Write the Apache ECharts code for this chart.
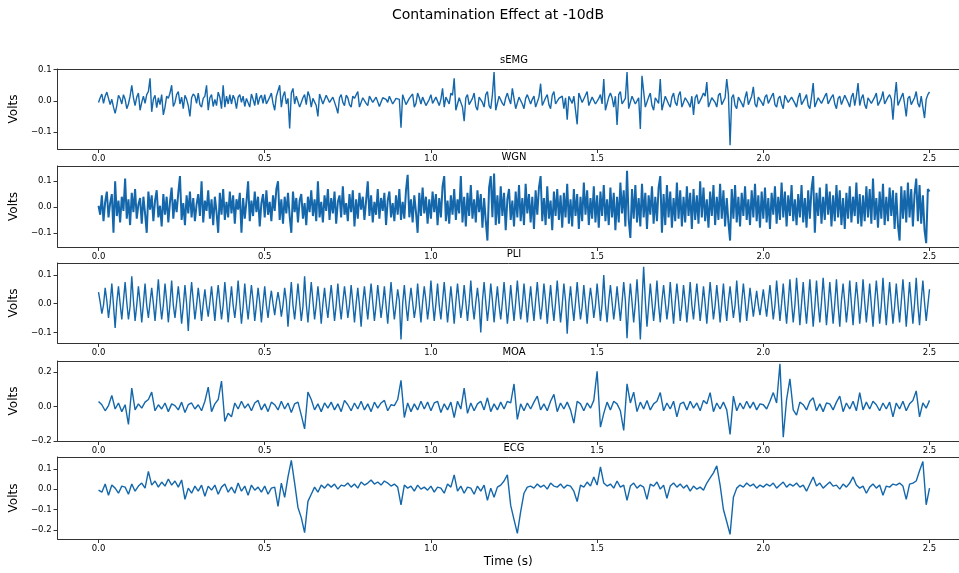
<!DOCTYPE html>
<html lang="en">
<head>
<meta charset="UTF-8">
<title>Contamination Effect at -10dB</title>
<script src="https://cdn.jsdelivr.net/npm/echarts@6/dist/echarts.min.js"></script>
<style>
    html, body { margin: 0; padding: 0; background: #fff; }
    #main { width: 959px; height: 573px; }
</style>
</head>
<body>
<div id="main"></div>
<script type="text/javascript">
    // panel titles and tick values
    var panelNames = ['sEMG', 'WGN', 'PLI', 'MOA', 'ECG'];
    var xTicks = [0, 0.5, 1.0, 1.5, 2.0, 2.5];
    var yTicks = [
        [-0.1, 0, 0.1],
        [-0.1, 0, 0.1],
        [-0.1, 0, 0.1],
        [-0.2, 0, 0.2],
        [-0.2, -0.1, 0, 0.1]
    ];
    // sample step of each signal, seconds
    var stepSec = [0.005, 0.005, 0.005, 0.01, 0.01];

    // signals, millivolts
    var semg = [
        -5, 10, 22, -8, 15, 28, 30, -12, 5, -20, -40, -15, 18, 8, -10, 20, 5, -25, -10, 15,
        50, 10, -15, 12, 25, -30, -5, 15, -8, 20, 30, 72, -35, 5, 18, -22, 10, -12, 20, -45,
        -20, 15, 8, 25, 50, -18, -5, 20, 30, -10, 12, -25, 18, 5, -15, -50, 10, 22, 15, -8,
        25, -12, -20, 8, 15, 50, -30, 10, 20, -18, 5, -15, 28, 12, -25, 50, -20, 15, -10, 20,
        -10, 18, 5, -25, 12, 20, -5, 15, -18, 8, 10, -20, 22, 5, -15, 25, -12, 10, 18, -8,
        20, -10, -15, 12, 25, -8, -30, 15, 10, 50, -20, 15, 30, -10, 8, -88, 25, 40, -10, 15,
        15, -20, -25, 10, 20, -12, 30, 15, -20, 8, 10, -15, -50, 22, 25, -10, -15, 18, 20, -5,
        -10, 12, 15, -20, -40, 10, 20, -5, -15, 18, 10, -12, -20, 15, 8, 12, 30, -20, -25, 10,
        10, -8, -15, 15, 20, -5, -10, 12, 15, -18, -20, 10, 10, 5, -5, 15, 20, -10, -15, 8,
        10, 5, -86, 20, 20, -12, -10, 8, 15, 22, -20, -8, 25, 10, -10, 12, 10, -15, -15, 5,
        20, -8, -10, 12, 15, -15, 5, 40, -20, 12, 10, -10, 25, 18, 72, -30, -30, 10, 15, -20,
        -65, 10, 20, -12, -15, 8, 25, -18, -30, 12, 15, -5, -20, 20, 30, -15, -25, 20, 92, -30,
        -30, 15, 20, -8, -15, 10, 25, 5, -10, 40, 40, -25, -20, 12, 15, -10, -25, 8, 20, 15,
        -10, 5, 15, -20, -20, 12, 55, -15, -15, 10, 20, -12, -25, 18, 30, -10, -15, 8, 10, 15,
        -25, 10, -60, 15, 20, -8, 15, 10, -75, 25, 25, -5, -10, 18, 30, -15, -20, 12, 15, -10,
        -15, 8, 20, -10, 70, -30, -30, 12, 25, 10, -20, 15, -77, 20, 30, -10, -15, 8, 92, -25,
        -25, 15, 20, -10, -15, 10, -90, 80, 80, -20, -20, 12, 25, -15, -30, 10, 15, -8, 70, -30,
        -30, 15, 20, -10, -20, 12, 25, -5, -15, 18, 30, -20, -25, 10, 15, -8, -20, 15, -45, 10,
        20, -10, -15, 12, 25, 15, 60, -20, -25, 10, 15, -5, -20, 18, 25, -12, -15, 10, 70, 20,
        -142, 10, 20, -15, -25, 12, 15, -8, -20, 10, 30, -12, -10, 15, 45, -10, -20, 12, 15, -5,
        -15, 12, 20, -8, -10, 15, 25, -12, -20, 8, 15, -10, -25, 18, 20, -5, -10, 12, 15, -8,
        -20, 10, 25, -12, -15, 8, 20, -15, -25, 12, 57, -20, -20, 10, 15, -8, -10, 15, 25, -10,
        -15, 12, 20, -10, -25, 8, 15, -12, -10, 18, 20, -5, -20, 12, 25, -15, 15, 57, -15, 8,
        20, -12, -25, 10, 15, -8, -10, 12, 25, -15, -20, 8, 30, -10, -15, 12, 20, 5, -60, 10,
        60, -15, -20, 12, 25, -10, -50, 8, 15, -12, -15, 10, 30, -8, -20, 15, -20, -55, 5, 20,
        29
    ];
    var wgn = [
        5, -30, 45, -55, 20, 60, -40, 15, 50, -100, 100, -35, 25, -60, 40, -15, 110, -45, 30, -70,
        55, -20, 70, -45, 10, 35, -65, 40, -25, -100, 60, -10, 45, -55, 25, 65, -40, 5, -75, 50,
        -30, 40, -60, 20, 75, -45, 30, -20, 55, 120, -50, 15, -70, 45, -25, 60, -40, 35, -55, 10,
        50, -35, 100, -60, 25, -15, 65, -45, 30, -70, 40, -20, -100, 55, -30, 70, -50, 20, -40, 60,
        -25, 45, -65, 30, -10, 55, -100, 35, -45, 20, 100, -55, 25, -35, 60, -20, 40, -75, 15, 50,
        -40, 65, -30, 20, -55, 45, -15, 70, 100, -50, 30, -65, 40, -25, 55, -35, -100, 60, -20, 35,
        -60, 25, 50, -45, 15, -70, 40, -20, 65, -35, 30, -55, 100, -40, 20, -60, 45, -15, 70, -50,
        35, -25, 60, -65, 20, 45, -40, 80, -30, 15, -55, 50, -20, 65, -75, 30, -45, 55, -10, 40,
        -50, 25, 100, -35, 45, -60, 20, -30, 70, -45, 35, -15, 55, -70, 25, 60, -40, 15, -55, 45,
        -30, 70, -50, 20, -45, 65, 125, -40, 30, -60, 45, -20, -100, 55, -35, 75, -25, 40, -65, 30,
        -45, 60, -20, 50, -70, 35, -40, 80, 120, -55, 25, -65, 45, -30, 70, -50, 30, -25, 120, -60,
        40, -75, 55, -35, 85, -45, 30, -60, 65, -20, 50, -80, 35, -55, -130, 75, 120, -40, 130, -70,
        45, -65, 80, -35, 55, -90, 30, 70, -50, 25, -75, 60, -40, 85, -55, 35, -70, 90, -25, 50,
        -60, 40, -85, 65, -30, 75, 120, -55, 35, -70, 80, -45, 25, -90, 60, -35, 70, -50, 45, -80,
        55, -40, 90, -65, 30, -75, 70, -35, 50, -85, 40, -55, 95, -30, 65, -70, 35, -45, 80, -60,
        45, -80, 60, -35, 85, -55, 30, -70, 75, -40, 55, -90, 40, -60, 95, -25, 65, -75, 140, -50,
        -120, 70, -45, 85, -60, 35, -75, 90, -40, 55, -85, 45, -30, 80, -65, 40, -55, 75, 120, -100,
        50, -70, 85, -40, 60, -80, 35, -55, 95, -45, 65, -75, 40, -60, 80, -35, 55, -85, 70, -50,
        45, -65, 100, -40, 75, -55, 30, -80, 60, -35, 85, -70, 40, -50, 90, -45, 65, -75, 35, -60,
        -130, 70, -45, 85, -60, 40, -75, 55, -35, 80, -50, 30, -70, 65, -40, 90, -55, 45, -80, 60,
        -45, 75, -60, 35, -85, 55, -30, 80, -65, 40, -50, 95, -40, 60, -75, 45, -35, 85, -55, 30,
        -70, 50, -40, 85, -60, 35, -80, 65, -45, 70, 120, -100, 55, -35, 75, -65, 40, -50, 90, -30,
        60, -75, 45, -55, 85, -40, 65, -70, 35, -85, 55, -45, 80, -60, 40, -35, 95, -65, 50, -75,
        45, -55, 80, -40, 70, -65, 110, -50, 35, -80, 60, -45, 90, -70, 40, -55, 75, -35, 65, -85,
        55, -70, -130, 80, -45, 65, -60, 95, -40, 70, -75, 50, 110, -55, 85, -65, 45, -90, -140, 70,
        60
    ];
    var pli = [
        40, 5, -35, -5, 55, 10, -50, 0, 70, -5, -85, 5, 60, 0, -55, 10, 75, 5, -55, -10,
        95, 10, -60, -5, 60, 5, -65, 0, 70, -5, -50, 5, 55, 0, -60, 10, 85, 5, -55, -5,
        70, 10, -65, 0, 80, -5, -50, 5, 60, 5, -70, -10, 65, 0, -95, 5, 75, 10, -55, -5,
        55, 5, -60, 0, 50, -5, -45, 5, 60, 0, -60, 10, 65, 5, -55, -5, 75, 10, -65, 0,
        60, -5, -50, 5, 80, 5, -70, -10, 70, 0, -55, 5, 65, 10, -60, -5, 55, 5, -65, 0,
        60, -5, -50, 5, 45, 0, -40, 5, 40, 5, -45, -5, 55, 10, -80, 0, 75, -5, -55, 5,
        70, 5, -60, -10, 95, 0, -65, 5, 75, 10, -55, -5, 60, 5, -70, 0, 55, -5, -50, 10,
        65, 5, -60, -5, 70, 0, -55, 5, 60, 10, -50, -5, 65, 5, -65, 0, 55, -5, -80, 5,
        60, 0, -55, 10, 70, 5, -60, -5, 65, 10, -50, 0, 60, -5, -70, 5, 75, 5, -55, -5,
        50, 10, -125, 0, 65, -5, -60, 5, 55, 5, -50, -10, 70, 0, -65, 5, 60, 10, -55, -5,
        80, 5, -60, 0, 70, -5, -55, 10, 75, 5, -65, -5, 60, 0, -70, 5, 70, 10, -50, -5,
        65, 5, -60, 0, 80, -5, -55, 5, 55, 0, -100, 10, 75, 5, -60, -5, 70, 10, -65, 0,
        60, -5, -55, 5, 75, 5, -70, -10, 65, 0, -60, 5, 80, 10, -55, -5, 70, 5, -65, 0,
        60, -5, -60, 10, 75, 5, -55, -5, 70, 10, -70, 0, 65, -5, -60, 5, 80, 5, -65, -5,
        70, 10, -105, 0, 60, -5, -60, 5, 75, 5, -55, -10, 65, 0, -70, 5, 55, 10, -50, -5,
        70, 5, -60, 0, 100, -5, -65, 10, 65, 5, -55, -5, 60, 0, -60, 5, 75, 10, -120, -5,
        70, 5, -65, 0, 85, -5, -125, 5, 128, 10, -80, -5, 70, 5, -60, 0, 80, -5, -65, 10,
        65, 5, -55, -5, 75, 0, -70, 5, 70, 10, -60, -5, 65, 5, -65, 0, 75, -5, -55, 10,
        70, 5, -60, -5, 60, 0, -70, 5, 75, 10, -55, -5, 65, 5, -65, 0, 70, -5, -60, 10,
        60, 5, -50, -5, 80, 0, -65, 5, 70, 10, -60, -5, 55, 5, -45, 0, 45, -5, -40, 5,
        50, 0, -45, 10, 65, 5, -55, -5, 80, 10, -60, 0, 70, -5, -70, 5, 85, 5, -65, -5,
        90, 10, -75, 0, 75, -5, -70, 5, 85, 5, -80, -10, 80, 0, -65, 5, 90, 10, -75, -5,
        75, 5, -70, 0, 85, -5, -80, 10, 70, 5, -65, -5, 80, 0, -75, 5, 75, 10, -70, -5,
        85, 5, -65, 0, 70, -5, -80, 5, 80, 10, -70, -5, 90, 0, -75, 5, 75, 5, -70, -10,
        70, 0, -65, 5, 85, 10, -80, -5, 75, 5, -70, 0, 90, -5, -75, 10, 80, 5, -60, -5,
        50
    ];
    var moa = [
        29, 10, -25, 5, 64, -15, 20, -30, 10, -104,
        106, -20, 15, -10, 25, 40, 83, -25, 10, -15,
        20, -30, 15, 5, -20, 25, -35, 10, 20, -15,
        10, -25, 30, 112, -30, 15, 40, 147, -87, -40,
        -60, 20, -15, 30, -10, 15, -25, 20, 35, -20,
        15, -30, 25, 10, -20, 30, -15, 20, -35, 15,
        25, -50, -130, 83, 40, -20, 15, -30, 20, -10,
        25, -20, 15, -30, 35, 10, -25, 20, -15, 30,
        -20, 15, -30, 25, -10, 20, 35, -25, 10, 5,
        40, 151, -64, 20, -30, 15, -20, 30, -15, 25,
        -25, 20, 30, -35, 15, -20, 25, -64, 30, -15,
        106, -40, 20, -25, 15, 30, -20, 50, -30, 15,
        -20, 25, -15, 30, 20, 130, -75, 15, -25, 20,
        -15, 25, 60, -20, 15, -25, 30, 70, -30, 20,
        -15, 25, -20, -97, 30, 15, -25, 20, -10, 35,
        203, -120, -40, 25, -20, 30, 15, -25, -139, 131,
        20, 83, -30, 25, -15, 35, -20, 15, 30, 80,
        -25, 20, -15, 30, -60, 15, 25, -20, 30, -10,
        20, -25, 35, 15, 80, -30, 20, -15, 25, -20,
        -162, 60, -25, 20, -15, 30, -10, 25, -20, 15,
        10, -15, 30, 80, 20, 247, -178, 40, 160, -20,
        -50, 25, 10, -20, 30, 50, -25, 15, -30, 20,
        15, -20, 25, 60, -30, 20, -15, 30, -25, 80,
        -20, 25, -15, 30, 10, -25, 20, -15, 25, -60,
        20, -15, 30, -25, 15, 35, 90, -60, 20, -10,
        35
    ];
    var ecg = [
        -5, -15, 25, -30, 20, 5, -20, 15, 10, -25,
        25, -10, 15, 30, 5, 87, 20, 40, 10, 35,
        15, 50, 20, 40, 10, 45, -50, 5, -20, 15,
        -10, 20, -35, 15, -5, 20, -25, 10, 25, -15,
        10, -20, 30, -10, 15, -30, 20, -5, 10, -15,
        15, -25, 5, 10, -85, 30, -40, 60, 141, 30,
        -90, -140, -214, -60, -25, 10, -15, 20, 5, 25,
        10, 25, 0, 20, 15, 30, 10, 25, 5, 35,
        20, 30, 45, 25, 35, 20, 40, 30, 15, 25,
        10, -77, 20, 5, 15, -10, 20, 0, 10, -5,
        15, -15, 10, 5, -20, 25, 10, 70, -10, 15,
        -20, 10, 5, -25, 15, -10, 20, -55, 5, -40,
        10, 20, 40, 70, -80, -150, -217, -110, -20, 10,
        15, 5, 25, 10, 20, 0, 30, 15, 10, 25,
        5, 20, 15, -10, -61, 20, 10, 35, 15, 60,
        20, 110, 30, 15, 25, 5, 40, 10, 20, -55,
        15, 30, 5, 20, 10, -50, 25, 15, 35, 0,
        20, -45, 15, 30, 10, 25, 5, 20, -10, 15,
        0, 10, -5, 30, 55, 80, 115, 20, -100, -160,
        -222, -40, 5, 20, 10, 30, 15, 25, 5, 20,
        10, 25, 15, 30, 5, 20, 35, 10, 25, 15,
        30, 10, 20, -10, 25, 60, 15, 30, 5, 20,
        35, 15, 20, 0, 25, 10, 30, 60, 20, 5,
        15, -20, 10, 25, 5, 20, -30, 15, 10, 25,
        20, 30, 15, -50, 25, 30, 40, 90, 136, -77,
        5
    ];
    var signals = [semg, wgn, pli, moa, ecg];

    // layout of the five stacked panels (px) and their axis ranges
    var panels = [
        {top: 69,  height: 80, ymin: -0.154, ymax: 0.102},
        {top: 166, height: 81, ymin: -0.155, ymax: 0.159},
        {top: 263, height: 80, ymin: -0.137, ymax: 0.1415},
        {top: 361, height: 80, ymin: -0.2,   ymax: 0.263},
        {top: 457, height: 82, ymin: -0.245, ymax: 0.158}
    ];
    // the right part of the figure is cut off, so the x range ends at the canvas edge
    var xMin = -0.1233, xMax = 2.5887;
    var lineColor = '#1467ab';
    var axisColor = '#333';
    var fontName = '"DejaVu Sans", sans-serif';

    function fmt(v) {
        return v.toFixed(1).replace('-', '\u2212');
    }

    function toPairs(values, step) {
        return values.map(function (v, i) {
            return [i * step, v / 1000];
        });
    }

    var grids = [], xAxes = [], topAxes = [], yAxes = [], series = [];
    var graphics = [{
        type: 'text', x: 498, y: 15,
        style: {text: 'Contamination Effect at -10dB', fontSize: 14, fontFamily: fontName,
            fill: '#000', align: 'center', verticalAlign: 'middle'}
    }];

    for (var i = 0; i < panels.length; i++) {
        var p = panels[i];
        grids.push({left: 57, right: 0, top: p.top, height: p.height});
        xAxes.push({
            type: 'value', gridIndex: i, min: xMin, max: xMax, position: 'bottom',
            axisLine: {onZero: false, lineStyle: {color: axisColor, width: 1}},
            axisTick: {length: 4, customValues: xTicks, lineStyle: {color: axisColor}},
            axisLabel: {customValues: xTicks, formatter: fmt, margin: 5,
                fontSize: 8.5, color: '#000', fontFamily: fontName},
            splitLine: {show: false},
            name: i === panels.length - 1 ? 'Time (s)' : '',
            nameLocation: 'middle', nameGap: 17,
            nameTextStyle: {fontSize: 12, color: '#000', fontFamily: fontName}
        });
        // top frame line of each panel
        topAxes.push({
            type: 'value', gridIndex: i, min: xMin, max: xMax, position: 'top',
            axisLine: {onZero: false, lineStyle: {color: axisColor, width: 1}},
            axisTick: {show: false}, axisLabel: {show: false}, splitLine: {show: false}
        });
        yAxes.push({
            type: 'value', gridIndex: i, min: p.ymin, max: p.ymax,
            axisLine: {show: true, onZero: false, lineStyle: {color: axisColor, width: 1}},
            axisTick: {show: true, length: 4, customValues: yTicks[i], lineStyle: {color: axisColor}},
            axisLabel: {customValues: yTicks[i], formatter: fmt, margin: 6,
                fontSize: 8.5, color: '#000', fontFamily: fontName},
            splitLine: {show: false},
            name: 'Volts', nameLocation: 'middle', nameGap: 29,
            nameTextStyle: {fontSize: 12, color: '#000', fontFamily: fontName}
        });
        series.push({
            name: panelNames[i], type: 'line', xAxisIndex: i, yAxisIndex: i,
            data: toPairs(signals[i], stepSec[i]),
            showSymbol: false, symbol: 'none', silent: true,
            lineStyle: {color: lineColor, width: i === 1 ? 2.0 : 1.4}
        });
        graphics.push({
            type: 'text', x: 514, y: p.top - 9,
            style: {text: panelNames[i], fontSize: 10, fontFamily: fontName,
                fill: '#000', align: 'center', verticalAlign: 'middle'}
        });
    }

    var chart = echarts.init(document.getElementById('main'), null, {renderer: 'canvas'});
    chart.setOption({
        animation: false,
        backgroundColor: '#fff',
        grid: grids,
        xAxis: xAxes.concat(topAxes),
        yAxis: yAxes,
        series: series,
        graphic: graphics
    });
</script>
</body>
</html>
